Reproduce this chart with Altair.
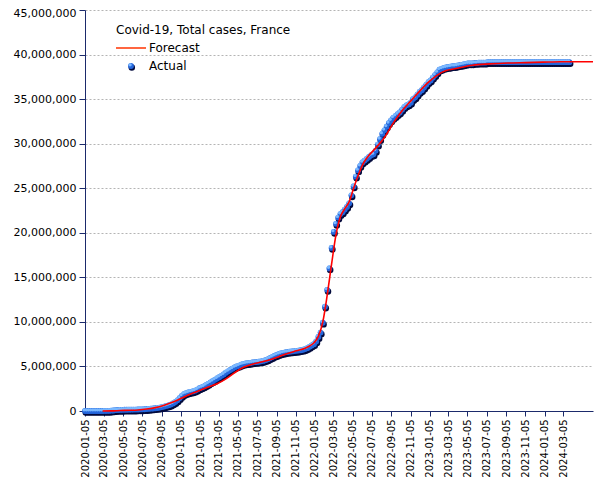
import altair as alt
import pandas as pd

# ---------------- data (millions of cumulative cases) ----------------
actual_start = "2020-01-05"   # weekly observations from this date
actual_m = [
    0, 0, 0, 0, 0, 0, 0, 0, 0, 0.005,
    0.01, 0.02, 0.04,
    0.06, 0.09, 0.11, 0.12, 0.13,
    0.14, 0.14, 0.15, 0.15, 0.16, 0.16, 0.17,
    0.18, 0.19, 0.2, 0.22, 0.24,
    0.26, 0.28, 0.31, 0.34, 0.38,
    0.44, 0.5, 0.57, 0.64, 0.72,
    0.85, 1.0, 1.2, 1.45, 1.7,
    1.9, 2.0, 2.08, 2.15, 2.2,
    2.28, 2.4, 2.55, 2.65, 2.75,
    2.9, 3.05, 3.2, 3.35, 3.5,
    3.65, 3.8, 3.95, 4.1, 4.3,
    4.45, 4.6, 4.75, 4.9, 5.0,
    5.1, 5.2, 5.28, 5.33, 5.37,
    5.4, 5.44, 5.48, 5.5, 5.53,
    5.57, 5.62, 5.7, 5.8, 5.92,
    6.05, 6.17, 6.28, 6.38, 6.46,
    6.53, 6.58, 6.62, 6.66, 6.69,
    6.72, 6.75, 6.78, 6.82, 6.87,
    6.95, 7.05, 7.2, 7.35, 7.5,
    7.8, 8.3, 8.8, 9.9, 11.7,
    13.6, 16.0, 18.3, 20.1, 21.0,
    21.7, 22.1, 22.3, 22.6, 22.9,
    23.3, 24.2, 25.2, 26.3, 27.0,
    27.5, 27.9, 28.1, 28.3, 28.5,
    28.7, 28.8, 29.2, 29.9, 30.5,
    31.1, 31.5, 31.9, 32.3, 32.6,
    32.9, 33.1, 33.3, 33.5, 33.8,
    34.1, 34.3, 34.4, 34.6, 35.0,
    35.2, 35.5, 35.8, 36.0, 36.3,
    36.6, 36.9, 37.1, 37.4, 37.7,
    38.0, 38.3, 38.4, 38.5, 38.55,
    38.6, 38.65, 38.7, 38.7, 38.75,
    38.8, 38.85, 38.9, 38.95, 39.0,
    39.0, 39.0, 39.05, 39.05, 39.1,
    39.1, 39.1, 39.1, 39.15, 39.15,
    39.15, 39.15, 39.15, 39.15, 39.15,
    39.15, 39.15, 39.15, 39.15, 39.15,
    39.15, 39.15, 39.15, 39.15, 39.15,
    39.15, 39.15, 39.15, 39.15, 39.15,
    39.15, 39.15, 39.15, 39.15, 39.15,
    39.15, 39.15, 39.15, 39.15, 39.15,
    39.15, 39.15, 39.15, 39.15, 39.15,
    39.15,
]

forecast_dates = [
    "2020-03-01", "2020-03-29", "2020-04-26", "2020-05-24", "2020-06-21",
    "2020-07-19", "2020-08-16", "2020-09-13", "2020-10-11", "2020-11-08",
    "2020-12-06", "2021-01-03", "2021-01-31", "2021-02-28", "2021-03-28",
    "2021-04-25", "2021-05-23", "2021-06-20", "2021-07-18", "2021-08-15",
    "2021-09-12", "2021-10-10", "2021-11-07", "2021-12-05", "2021-12-19",
    "2022-01-02", "2022-01-16", "2022-01-30", "2022-02-13", "2022-02-27",
    "2022-03-13", "2022-03-27", "2022-04-10", "2022-04-24", "2022-05-08",
    "2022-05-22", "2022-06-05", "2022-06-19", "2022-07-17", "2022-08-14",
    "2022-09-11", "2022-10-09", "2022-11-06", "2022-12-04", "2023-01-01",
    "2023-01-29", "2023-02-26", "2023-03-26", "2023-05-21", "2023-07-16",
    "2023-09-10", "2023-11-05", "2023-12-31", "2024-02-25", "2024-06-07",
]
forecast_m = [
    0.0, 0.01, 0.05, 0.08, 0.12,
    0.22, 0.38, 0.65, 1.0, 1.45,
    1.9, 2.3, 2.7, 3.05, 3.6,
    4.3, 4.9, 5.25, 5.5, 5.75,
    6.1, 6.45, 6.75, 7.05, 7.3,
    7.65, 8.4, 10.0, 13.0, 16.5,
    19.8, 21.8, 22.7, 23.5, 25.0,
    26.4, 27.6, 28.4, 29.5, 30.7,
    32.3, 33.7, 34.8, 35.9, 36.9,
    37.7, 38.2, 38.4, 38.8, 38.95,
    39.05, 39.1, 39.15, 39.2, 39.2,
]

y_ticks = [0, 5e6, 10e6, 15e6, 20e6, 25e6, 30e6, 35e6, 40e6, 45e6]
x_tick_months = [(y, m) for y in (2020, 2021, 2022, 2023) for m in (1, 3, 5, 7, 9, 11)] + [(2024, 1), (2024, 3)]

legend_title = "Covid-19, Total cases, France"
legend_labels = ["Forecast", "Actual"]

# ---------------- tables ----------------
actual_df = pd.DataFrame({
    "date": pd.date_range(actual_start, periods=len(actual_m), freq="7D").strftime("%Y-%m-%d"),
    "cases": [v * 1e6 for v in actual_m],
})
forecast_df = pd.DataFrame({"date": forecast_dates, "cases": [v * 1e6 for v in forecast_m]})

FONT = "DejaVu Sans"
NAVY = "#1b2a6b"
DARK = "#020a3c"
BLUE = "#2466dc"
LIGHT = "#7ab8ff"

x_enc = alt.X(
    "date:T",
    scale=alt.Scale(
        type="utc",
        domain=[alt.DateTime(year=2020, month=1, date=5, utc=True),
                alt.DateTime(year=2024, month=6, date=7, utc=True)],
    ),
    axis=alt.Axis(
        title=None,
        values=[alt.DateTime(year=y, month=m, date=5, utc=True) for y, m in x_tick_months],
        format="%Y-%m-%d",
        labelAngle=-90,
        labelFlush=False,
        labelOverlap=False,
        grid=False,
        labelFont=FONT,
        labelFontSize=10,
        labelColor="#000000",
        domainColor=NAVY,
        tickColor=NAVY,
        tickSize=5,
        labelPadding=3,
    ),
)
y_enc = alt.Y(
    "cases:Q",
    scale=alt.Scale(domain=[0, 45e6], nice=False),
    axis=alt.Axis(
        title=None,
        values=y_ticks,
        format=",d",
        grid=True,
        gridColor="#b4b4b4",
        gridDash=[2, 2],
        labelFont=FONT,
        labelFontSize=11,
        labelColor="#000000",
        labelOffset={"condition": {"test": "datum.value >= 45000000", "value": 3}, "value": 0},
        domainColor=NAVY,
        tickColor=NAVY,
        tickSize=6,
        labelPadding=3,
    ),
)

base_actual = alt.Chart(actual_df)
shadow = base_actual.mark_circle(size=42, color=DARK, opacity=1, xOffset=0.8, yOffset=1.6).encode(x=x_enc, y=y_enc)
body = base_actual.mark_circle(size=34, color=BLUE, opacity=1).encode(x=x_enc, y=y_enc)
shine = base_actual.mark_circle(size=11, color=LIGHT, opacity=1, xOffset=-0.9, yOffset=-1.2).encode(x=x_enc, y=y_enc)

line = alt.Chart(forecast_df).mark_line(color="#ff0000", strokeWidth=1.6, interpolate="monotone").encode(x=x_enc, y=y_enc)

one = alt.Chart(pd.DataFrame({"k": [0]}))
leg_title = one.mark_text(text=legend_title, font=FONT, fontSize=12, align="left", baseline="middle", color="#000000").encode(
    x=alt.value(31), y=alt.value(20))
leg_line = one.mark_rule(color="#ff3300", strokeWidth=1.5).encode(x=alt.value(31), x2=alt.value(61), y=alt.value(38))
leg_f = one.mark_text(text=legend_labels[0], font=FONT, fontSize=12, align="left", baseline="middle", color="#000000").encode(
    x=alt.value(64), y=alt.value(38))
leg_s1 = one.mark_circle(size=42, color=DARK, opacity=1).encode(x=alt.value(46.8), y=alt.value(57.6))
leg_s2 = one.mark_circle(size=34, color=BLUE, opacity=1).encode(x=alt.value(46), y=alt.value(56))
leg_s3 = one.mark_circle(size=11, color=LIGHT, opacity=1).encode(x=alt.value(45.1), y=alt.value(54.8))
leg_a = one.mark_text(text=legend_labels[1], font=FONT, fontSize=12, align="left", baseline="middle", color="#000000").encode(
    x=alt.value(64), y=alt.value(56))

chart = alt.layer(
    shadow, body, shine, line,
    leg_title, leg_line, leg_f, leg_s1, leg_s2, leg_s3, leg_a,
).properties(
    width=508,
    height=401,
    padding={"left": 77, "top": 2, "right": 4, "bottom": 70},
    autosize=alt.AutoSizeParams(type="none"),
    background="#ffffff",
).configure_view(stroke=None)

chart.save("out.html", embed_options={"renderer": "svg", "actions": False})
